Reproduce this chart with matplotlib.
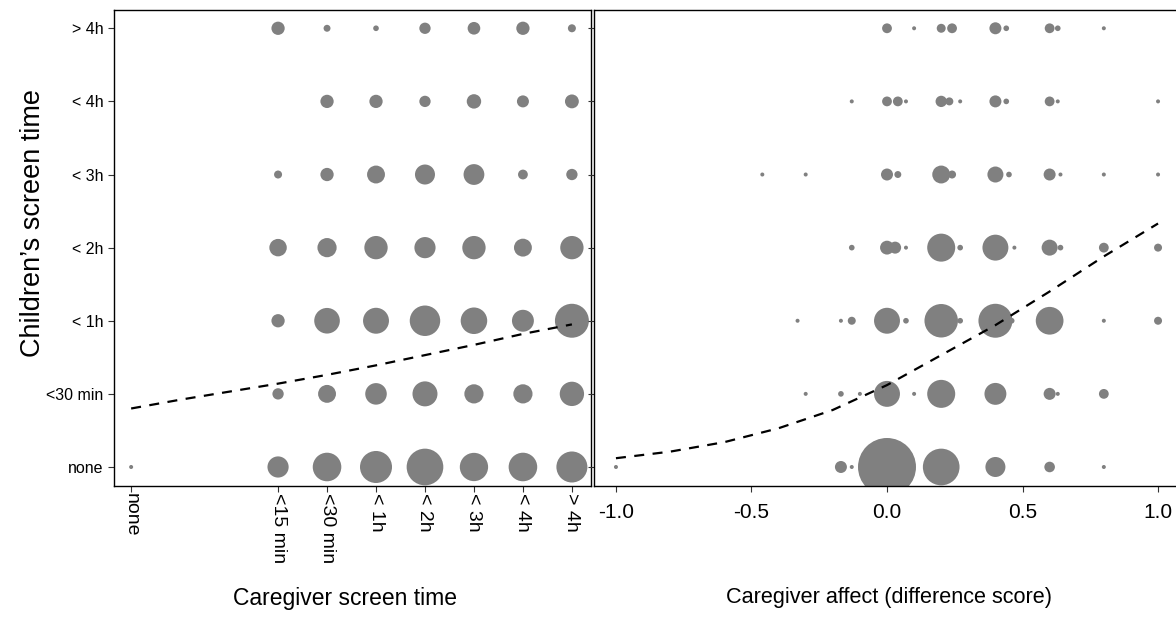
import matplotlib
matplotlib.use("Agg")
import matplotlib.pyplot as plt
import numpy as np

plt.rcParams['font.family'] = ['Liberation Sans', 'DejaVu Sans']

# children's screen time categories (y, bottom to top)
child_labels = ["none", "<30 min", "< 1h", "< 2h", "< 3h", "< 4h", "> 4h"]

# caregiver screen time categories (x) and their positions on the axis
care_labels = ["none", "<15 min", "<30 min", "< 1h", "< 2h", "< 3h", "< 4h", "> 4h"]
care_pos = [0, 3, 4, 5, 6, 7, 8, 9]

# counts per cell, one row per child category (none ... > 4h)
care_counts = [
    [1, 28, 51, 64, 84, 50, 51, 60],
    [0, 8, 20, 29, 39, 23, 23, 37],
    [0, 11, 41, 42, 58, 44, 30, 72],
    [0, 19, 23, 34, 28, 34, 20, 34],
    [0, 4, 11, 20, 25, 27, 6, 8],
    [0, 0, 11, 11, 8, 13, 9, 12],
    [0, 11, 3, 2, 8, 10, 11, 4],
]

# smoothed trend, caregiver screen time
care_fit_x = [0, 1, 2, 3, 4, 5, 6, 7, 8, 9]
care_fit_y = [0.80, 0.92, 1.03, 1.14, 1.26, 1.39, 1.53, 1.67, 1.82, 1.95]

# caregiver affect (difference score): x value, child category index, count
affect_x = [
    -1.0, -0.17, -0.13, 0.0, 0.2, 0.4, 0.6, 0.8,
    -0.3, -0.17, -0.1, 0.0, 0.1, 0.2, 0.4, 0.6, 0.63, 0.8,
    -0.33, -0.17, -0.13, 0.0, 0.07, 0.2, 0.27, 0.4, 0.46, 0.6, 0.8, 1.0,
    -0.13, 0.0, 0.03, 0.07, 0.2, 0.27, 0.4, 0.47, 0.6, 0.64, 0.8, 1.0,
    -0.46, -0.3, 0.0, 0.04, 0.2, 0.24, 0.4, 0.45, 0.6, 0.64, 0.8, 1.0,
    -0.13, 0.0, 0.04, 0.07, 0.2, 0.23, 0.27, 0.4, 0.44, 0.6, 0.63, 1.0,
    0.0, 0.1, 0.2, 0.24, 0.4, 0.44, 0.6, 0.63, 0.8,
]
affect_child = (
    [0] * 8 + [1] * 10 + [2] * 12 + [3] * 12 + [4] * 12 + [5] * 12 + [6] * 9
)
affect_n = [
    1, 9, 1, 210, 84, 25, 7, 1,
    1, 2, 1, 42, 1, 49, 30, 9, 1, 6,
    1, 1, 4, 42, 2, 70, 2, 72, 2, 48, 1, 4,
    2, 12, 9, 1, 49, 2, 42, 1, 16, 2, 6, 4,
    1, 1, 9, 3, 20, 4, 16, 2, 9, 1, 1, 1,
    1, 6, 6, 1, 8, 4, 1, 9, 2, 6, 1, 1,
    6, 1, 5, 6, 9, 2, 6, 2, 1,
]

# smoothed trend, caregiver affect
affect_fit_x = [-1.0, -0.8, -0.6, -0.4, -0.2, 0.0, 0.2, 0.4, 0.6, 0.8, 1.0]
affect_fit_y = [0.12, 0.21, 0.34, 0.53, 0.78, 1.12, 1.53, 1.94, 2.40, 2.88, 3.33]

SIZE_PER_COUNT = 8.3
POINT_COLOR = "#808080"

W, H = 1176, 619
fig = plt.figure(figsize=(W / 100, H / 100), dpi=100)


def px_axes(x0, x1, y0, y1):
    return fig.add_axes([x0 / W, 1 - y1 / H, (x1 - x0) / W, (y1 - y0) / H])


ax1 = px_axes(114, 591, 10, 486)
ax2 = px_axes(594, 1180, 10, 486)

# left panel: caregiver screen time
xs, ys, ss = [], [], []
for row, counts in enumerate(care_counts):
    for pos, n in zip(care_pos, counts):
        if n > 0:
            xs.append(pos)
            ys.append(row)
            ss.append(n * SIZE_PER_COUNT)
ax1.scatter(xs, ys, s=ss, color=POINT_COLOR, edgecolors="none", zorder=2)
ax1.plot(care_fit_x, care_fit_y, color="black", lw=1.6, dashes=(4.5, 3.8), zorder=3)

ax1.set_xlim(-0.35, 9.39)
ax1.set_ylim(-0.26, 6.25)
ax1.set_xticks(care_pos)
ax1.set_xticklabels(care_labels, rotation=-90, fontsize=14, va="top", ha="center")
ax1.set_yticks(range(len(child_labels)))
ax1.set_yticklabels(child_labels, fontsize=11.5)

# right panel: caregiver affect
ax2.scatter(affect_x, affect_child, s=np.array(affect_n) * SIZE_PER_COUNT,
            color=POINT_COLOR, edgecolors="none", zorder=2)
ax2.plot(affect_fit_x, affect_fit_y, color="black", lw=1.6, dashes=(4.5, 3.8), zorder=3)

ax2.set_xlim(-1.081, 1.081)
ax2.set_ylim(-0.26, 6.25)
ax2.set_xticks([-1.0, -0.5, 0.0, 0.5, 1.0])
ax2.set_xticklabels(["-1.0", "-0.5", "0.0", "0.5", "1.0"], fontsize=15)
ax2.set_yticks(range(len(child_labels)))
ax2.set_yticklabels([])

for ax in (ax1, ax2):
    for sp in ax.spines.values():
        sp.set_linewidth(1.0)
        sp.set_color("black")
    ax.tick_params(direction="out", length=4, width=0.8, color="#333333",
                   labelcolor="black")
ax1.tick_params(axis="x", pad=1)
ax2.tick_params(axis="x", pad=8)

fig.text(33 / W, 1 - 223 / H, "Children\u2019s screen time", rotation=90,
         fontsize=19.5, ha="center", va="center")
fig.text(345 / W, 1 - 598 / H, "Caregiver screen time", fontsize=16.5,
         ha="center", va="center")
fig.text(889 / W, 1 - 598 / H, "Caregiver affect (difference score)", fontsize=15.6,
         ha="center", va="center")

fig.savefig("out.png", dpi=100)
